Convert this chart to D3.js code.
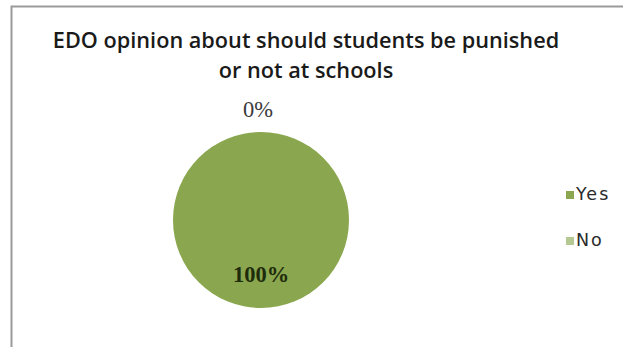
<!DOCTYPE html>
<html>
<head>
<meta charset="utf-8">
<script src="https://cdn.jsdelivr.net/npm/d3@7"></script>
<style>
  html, body { margin: 0; padding: 0; background: #fff; }
  svg { display: block; }
</style>
</head>
<body>
<svg id="chart" width="623" height="347"></svg>
<script>
// Survey answers
const categories = ["Yes", "No"];
const values = [100, 0];
const labels = ["100%", "0%"];
const colors = ["#8aa64e", "#b5c892"];
const titleLines = ["EDO opinion about should students be punished", "or not at schools"];

const svg = d3.select("#chart");
const W = 623, H = 347;

// chart frame (left and top edges fall inside the view)
svg.append("rect")
  .attr("x", 11.5).attr("y", 6.5)
  .attr("width", W).attr("height", H + 10)
  .attr("fill", "#fff")
  .attr("stroke", "#9a9a9a").attr("stroke-width", 2);

// title
svg.append("g").selectAll("text").data(titleLines).join("text")
  .attr("x", 306).attr("y", (d, i) => 48 + i * 30)
  .attr("text-anchor", "middle")
  .attr("font-family", "'Open Sans', sans-serif")
  .attr("font-weight", 600)
  .attr("font-size", 21.7)
  .attr("fill", "#1a1a1a")
  .text(d => d);

// pie
const cx = 261, cy = 220, r = 88;
const data = categories.map((c, i) => ({ cat: c, value: values[i], label: labels[i], color: colors[i] }));
const pie = d3.pie().value(d => d.value).sort(null);
const arcs = pie(data);
const arc = d3.arc().innerRadius(0).outerRadius(r);

const g = svg.append("g").attr("transform", `translate(${cx},${cy})`);
g.selectAll("path").data(arcs).join("path")
  .attr("d", arc)
  .attr("fill", d => d.data.color);

// data labels: the empty slice sits just above the top edge,
// the full slice is labelled near the bottom of the disc
const outer = d3.arc().innerRadius(r + 22).outerRadius(r + 22);
g.selectAll("text.lbl").data(arcs).join("text")
  .attr("class", "lbl")
  .attr("transform", d => {
    if (d.value === 0) {
      const [x, y] = outer.centroid(d);
      return `translate(${x - 3},${y + 7})`;
    }
    return `translate(0,${r * 0.7})`;
  })
  .attr("text-anchor", "middle")
  .attr("font-family", "'Liberation Serif', serif")
  .attr("font-size", 22.5)
  .attr("font-weight", d => d.value === 0 ? 400 : 700)
  .attr("fill", d => d.value === 0 ? "#3a3a3a" : "#1e2c0c")
  .text(d => d.data.label);

// legend
const legend = svg.append("g").attr("transform", "translate(566,194)");
const items = legend.selectAll("g").data(data).join("g")
  .attr("transform", (d, i) => `translate(0,${i * 46})`);
items.append("rect")
  .attr("x", 0).attr("y", -3).attr("width", 8).attr("height", 8)
  .attr("fill", d => d.color);
items.append("text")
  .attr("x", 10).attr("y", 6)
  .attr("font-family", "'DejaVu Sans', sans-serif")
  .attr("font-size", 17.5)
  .attr("font-weight", 500)
  .attr("letter-spacing", 2)
  .attr("fill", "#2a2a2a")
  .text(d => d.cat);
</script>
</body>
</html>
